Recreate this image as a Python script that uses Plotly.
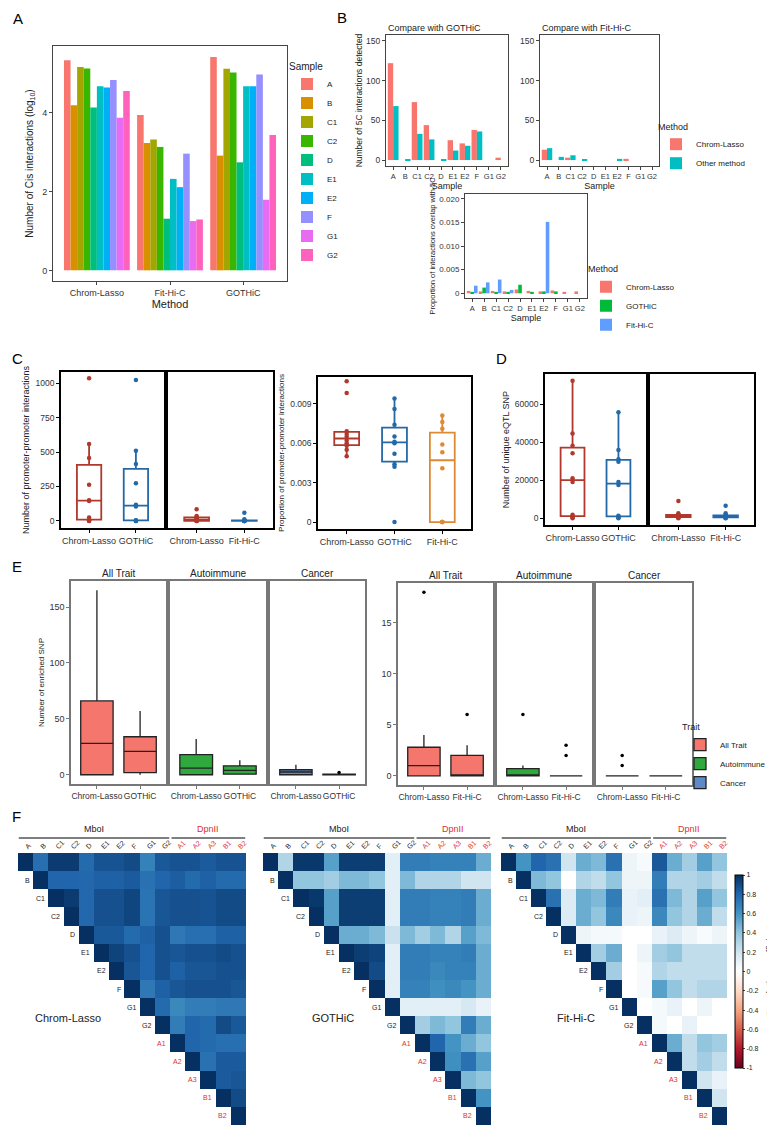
import numpy as np
import plotly.graph_objects as go

W, H = 775, 1125
FONT = "Liberation Sans, Arial, Helvetica, sans-serif"

# ------------------------------------------------------------------ data
# Panel A
methods = ["Chrom-Lasso", "Fit-Hi-C", "GOTHiC"]
samples = ["A", "B", "C1", "C2", "D", "E1", "E2", "F", "G1", "G2"]
sample_colors = ["#F8766D", "#D89000", "#A3A500", "#39B600", "#00BF7D",
                 "#00BFC4", "#00B0F6", "#9590FF", "#E76BF3", "#FF62BC"]
cis_chromlasso = [5.33, 4.19, 5.16, 5.12, 4.13, 4.67, 4.64, 4.83, 3.87, 4.55]
cis_fithic = [3.94, 3.23, 3.32, 3.13, 1.31, 2.32, 2.11, 2.96, 1.25, 1.29]
cis_gothic = [5.41, 2.91, 5.11, 5.02, 2.74, 4.67, 4.67, 4.97, 1.79, 3.43]

# Panel B
fivec_gothic_chromlasso = [122, 0, 73, 44, 0, 25, 21, 38, 0, 3]
fivec_gothic_other = [68, 1, 33, 26, 1, 12, 18, 36, 0, 0]
fivec_fithic_chromlasso = [13, 0, 3, 0, 0, 0, 0, 1.5, 0, 0]
fivec_fithic_other = [15, 4, 6, 1, 0, 0, 1.5, 0, 0, 0]
overlap_methods = ["Chrom-Lasso", "GOTHiC", "Fit-Hi-C"]
overlap_colors = ["#F8766D", "#00BA38", "#619CFF"]
overlap_chromlasso = [0.0005, 0.0004, 0.0005, 0.0004, 0.0008, 0.0005, 0.0004, 0.0006, 0.0003, 0.0004]
overlap_gothic = [0.0003, 0.0012, 0.0003, 0.0003, 0.0018, 0.0003, 0.0004, 0.0004, 0.0, 0.0]
overlap_fithic = [0.0016, 0.0023, 0.0029, 0.0007, 0.0, 0.0, 0.0151, 0.0, 0.0, 0.0]

# Panel C
pp_gothic_chromlasso = [1036, 558, 456, 262, 150, 145, 24, 5, 2, 0]
pp_gothic_gothic = [1024, 510, 413, 274, 117, 105, 5, 3, 0, 0]
pp_fithic_chromlasso = [85, 36, 28, 20, 12, 5, 2, 1, 0, 0]
pp_fithic_fithic = [60, 12, 5, 3, 2, 1, 0, 0, 0, 0]
ppprop_chromlasso = [0.0107, 0.0098, 0.0069, 0.0067, 0.0065, 0.0062, 0.0060, 0.0058, 0.0055, 0.0050]
ppprop_gothic = [0.0094, 0.0086, 0.0074, 0.0065, 0.0061, 0.0060, 0.0052, 0.0044, 0.0042, 0.0]
ppprop_fithic = [0.0081, 0.0076, 0.0071, 0.0059, 0.0053, 0.0041, 0.0, 0.0, 0.0, 0.0]

# Panel D
eqtl_gothic_chromlasso = [72400, 44700, 38200, 34200, 21000, 19000, 1750, 900, 500, 0]
eqtl_gothic_gothic = [55800, 36000, 31000, 29800, 19000, 17500, 1200, 900, 300, 0]
eqtl_fithic_chromlasso = [9100, 2600, 1800, 1500, 1200, 1000, 800, 500, 200, 0]
eqtl_fithic_fithic = [6500, 2600, 1500, 1200, 1000, 900, 700, 400, 100, 0]

# Panel E (box statistics per trait: [Chrom-Lasso, other])
traits = ["All Trait", "Autoimmune", "Cancer"]
trait_colors = ["#F4766D", "#2FA93E", "#5F8AC8"]
snpG_low = [[0, 0], [0, 0], [0, 0]]
snpG_q1 = [[0, 2], [0, 0.5], [0, 0]]
snpG_med = [[28, 21], [6, 4], [2.5, 0]]
snpG_q3 = [[66, 34], [18, 8], [4.5, 0.6]]
snpG_high = [[165, 57], [32, 13], [9, 1.2]]
snpG_out = [[[], []], [[], []], [[], [2]]]
snpF_low = [[0, 0], [0, 0], [0, 0]]
snpF_q1 = [[0, 0], [0, 0], [0, 0]]
snpF_med = [[1, 0], [0, 0], [0, 0]]
snpF_q3 = [[2.8, 2], [0.7, 0], [0, 0]]
snpF_high = [[4, 3], [1, 0], [0, 0]]
snpF_out = [[[18], [6]], [[6], [2, 3]], [[1, 2], []]]

# Panel F (upper triangles of correlation matrices, row by row)
corr_labels = ["A", "B", "C1", "C2", "D", "E1", "E2", "F", "G1", "G2", "A1", "A2", "A3", "B1", "B2"]
corr_chromlasso = [
    [0.76, 0.96, 0.96, 0.78, 0.87, 0.87, 0.9, 0.68, 0.85, 0.87, 0.87, 0.84, 0.87, 0.87],
    [0.8, 0.8, 0.79, 0.82, 0.82, 0.84, 0.75, 0.8, 0.83, 0.78, 0.82, 0.78, 0.78],
    [0.96, 0.79, 0.88, 0.88, 0.92, 0.74, 0.86, 0.88, 0.88, 0.87, 0.9, 0.9],
    [0.79, 0.88, 0.88, 0.92, 0.74, 0.86, 0.88, 0.88, 0.87, 0.9, 0.9],
    [0.85, 0.85, 0.78, 0.82, 0.88, 0.72, 0.76, 0.76, 0.82, 0.82],
    [0.93, 0.88, 0.8, 0.88, 0.86, 0.88, 0.88, 0.9, 0.88],
    [0.86, 0.8, 0.88, 0.82, 0.86, 0.86, 0.88, 0.88],
    [0.72, 0.82, 0.86, 0.88, 0.88, 0.88, 0.86],
    [0.78, 0.65, 0.7, 0.7, 0.72, 0.72],
    [0.7, 0.8, 0.78, 0.9, 0.85],
    [0.8, 0.78, 0.76, 0.76],
    [0.75, 0.84, 0.84],
    [0.84, 0.86],
    [0.9],
]
corr_gothic = [
    [0.3, 0.97, 0.97, 0.55, 0.95, 0.95, 0.95, 0.12, 0.7, 0.7, 0.68, 0.68, 0.68, 0.5],
    [0.4, 0.4, 0.35, 0.45, 0.45, 0.4, 0.12, 0.45, 0.3, 0.3, 0.3, 0.2, 0.2],
    [0.97, 0.55, 0.95, 0.95, 0.95, 0.12, 0.7, 0.7, 0.68, 0.68, 0.7, 0.5],
    [0.55, 0.95, 0.95, 0.95, 0.12, 0.7, 0.7, 0.68, 0.68, 0.7, 0.5],
    [0.5, 0.5, 0.45, 0.22, 0.45, 0.35, 0.45, 0.3, 0.55, 0.45],
    [0.95, 0.93, 0.12, 0.7, 0.7, 0.68, 0.68, 0.7, 0.5],
    [0.9, 0.12, 0.7, 0.7, 0.65, 0.68, 0.68, 0.5],
    [0.12, 0.68, 0.68, 0.62, 0.65, 0.6, 0.5],
    [0.12, 0.12, 0.12, 0.12, 0.18, 0.1],
    [0.35, 0.45, 0.4, 0.7, 0.5],
    [0.8, 0.6, 0.5, 0.4],
    [0.62, 0.75, 0.55],
    [0.45, 0.4],
    [0.6],
]
corr_fithic = [
    [0.6, 0.8, 0.75, 0.2, 0.5, 0.45, 0.75, 0.08, 0.04, 0.85, 0.5, 0.35, 0.55, 0.4],
    [0.45, 0.4, 0.0, 0.3, 0.25, 0.4, 0.08, 0.08, 0.7, 0.3, 0.3, 0.35, 0.25],
    [0.75, 0.15, 0.5, 0.45, 0.7, 0.1, 0.12, 0.75, 0.45, 0.3, 0.55, 0.4],
    [0.15, 0.5, 0.4, 0.65, 0.1, 0.08, 0.65, 0.4, 0.3, 0.5, 0.25],
    [0.08, 0.05, 0.05, 0.0, 0.0, 0.1, 0.15, 0.08, 0.03, 0.08],
    [0.35, 0.5, 0.0, 0.08, 0.35, 0.4, 0.25, 0.25, 0.25],
    [0.35, 0.0, 0.04, 0.3, 0.25, 0.25, 0.25, 0.25],
    [0.0, 0.04, 0.55, 0.4, 0.25, 0.3, 0.3],
    [0.0, 0.05, 0.1, 0.0, 0.08, 0.0],
    [0.05, 0.0, 0.1, 0.0, 0.0],
    [0.5, 0.25, 0.4, 0.35],
    [0.25, 0.35, 0.25],
    [0.2, 0.1],
    [0.2],
]

# ------------------------------------------------------------------ helpers
layout = {}
traces = []
annotations = []
shapes = []
counter = [0]


def new_axes(xpx, ypx, xstyle, ystyle):
    counter[0] += 1
    n = counter[0]
    s = "" if n == 1 else str(n)
    layout["xaxis" + s] = dict(domain=[xpx[0] / W, xpx[1] / W], anchor="y" + s,
                               automargin=False, **xstyle)
    layout["yaxis" + s] = dict(domain=[1 - ypx[1] / H, 1 - ypx[0] / H], anchor="x" + s,
                               automargin=False, **ystyle)
    return "x" + s, "y" + s


def frame(color, width, size=9, ticklabels=True):
    return dict(showline=True, mirror=True, linecolor=color, linewidth=width,
                showgrid=False, zeroline=False, ticks="outside" if ticklabels else "",
                ticklen=3, tickwidth=1, tickcolor=color,
                tickfont=dict(size=size, color="#333", family=FONT),
                showticklabels=ticklabels)


def text(x, y, s, size=10, color="#222", xanchor="center", yanchor="middle", angle=0):
    annotations.append(dict(x=x / W, y=1 - y / H, xref="paper", yref="paper", text=s,
                            showarrow=False, xanchor=xanchor, yanchor=yanchor, textangle=angle,
                            borderpad=0, font=dict(size=size, color=color, family=FONT)))


def box_stats(vals):
    v = np.asarray(vals, dtype=float)
    q1, med, q3 = np.percentile(v, [25, 50, 75])
    iqr = q3 - q1
    lo = v[v >= q1 - 1.5 * iqr].min()
    hi = v[v <= q3 + 1.5 * iqr].max()
    return q1, med, q3, lo, hi


# ------------------------------------------------------------------ panel A
xa, ya = new_axes((45, 279), (38, 273),
                  dict(frame("#444", 1, 9), type="category", range=[-0.6, 2.6], tickangle=0,
                       title=dict(text="Method", font=dict(size=11), standoff=3)),
                  dict(frame("#444", 1, 9), range=[-0.27, 5.69], tickvals=[0, 2, 4],
                       title=dict(text="Number of Cis interactions (log<sub>10</sub>)",
                                  font=dict(size=10), standoff=6)))
for k, smp in enumerate(samples):
    traces.append(go.Bar(x=methods, y=[cis_chromlasso[k], cis_fithic[k], cis_gothic[k]],
                         name=smp, marker=dict(color=sample_colors[k], line=dict(width=0)),
                         xaxis=xa, yaxis=ya, legend="legend", hoverinfo="skip"))
text(10, 11, "A", size=15, color="black")

# ------------------------------------------------------------------ panel B
ystyle_b = dict(frame("#444", 1, 8.5), range=[-7.5, 157.5], tickvals=[0, 50, 100, 150])
xsmp = dict(frame("#444", 1, 7.5), type="category", range=[-0.6, 9.6], tickangle=0,
            title=dict(text="Sample", font=dict(size=9), standoff=1))
xb1, yb1 = new_axes((378, 500), (27, 158), xsmp,
                    dict(ystyle_b, title=dict(text="Number of 5C interactions detected",
                                              font=dict(size=8.5), standoff=2)))
xb2, yb2 = new_axes((532, 651), (27, 158), xsmp, ystyle_b)
for (xx, yy, cl, ot, show) in [(xb1, yb1, fivec_gothic_chromlasso, fivec_gothic_other, True),
                                (xb2, yb2, fivec_fithic_chromlasso, fivec_fithic_other, False)]:
    traces.append(go.Bar(x=samples, y=cl, name="Chrom-Lasso", marker=dict(color="#F8766D", line=dict(width=0)),
                         xaxis=xx, yaxis=yy, legend="legend2", showlegend=show, hoverinfo="skip"))
    traces.append(go.Bar(x=samples, y=ot, name="Other method", marker=dict(color="#00BFC4", line=dict(width=0)),
                         xaxis=xx, yaxis=yy, legend="legend2", showlegend=show, hoverinfo="skip"))
text(379, 20, "Compare with GOTHiC", size=9, xanchor="left")
text(533, 20, "Compare with Fit-Hi-C", size=9, xanchor="left")
text(334, 10, "B", size=15, color="black")

xb3, yb3 = new_axes((457, 579), (186, 290), xsmp,
                    dict(frame("#444", 1, 8), range=[-0.001, 0.021],
                         tickvals=[0, 0.005, 0.010, 0.015, 0.020],
                         ticktext=["0", "0.005", "0.010", "0.015", "0.020"],
                         title=dict(text="Proportion of interactions overlap with 5C",
                                    font=dict(size=7.5), standoff=2)))
for m, col, vals in zip(overlap_methods, overlap_colors,
                        [overlap_chromlasso, overlap_gothic, overlap_fithic]):
    traces.append(go.Bar(x=samples, y=vals, name=m, marker=dict(color=col, line=dict(width=0)),
                         xaxis=xb3, yaxis=yb3, legend="legend3", hoverinfo="skip"))

# ------------------------------------------------------------------ panels C and D
BOXCOL = ["#B0382C", "#2369A8", "#DD8A35"]


def add_boxes(xx, yy, cats, datas):
    for i, (c, vals) in enumerate(zip(cats, datas)):
        q1, med, q3, lo, hi = box_stats(vals)
        traces.append(go.Box(x=[c], q1=[q1], median=[med], q3=[q3], lowerfence=[lo], upperfence=[hi],
                             width=0.52, whiskerwidth=0, boxpoints=False,
                             line=dict(color=BOXCOL[i], width=1.8), fillcolor="white",
                             xaxis=xx, yaxis=yy, showlegend=False, hoverinfo="skip"))
        traces.append(go.Scatter(x=[c] * len(vals), y=vals, mode="markers",
                                 marker=dict(color=BOXCOL[i], size=4.5),
                                 xaxis=xx, yaxis=yy, showlegend=False, hoverinfo="skip"))


xcat = dict(frame("black", 1.6, 9), type="category", tickangle=0)
yc = dict(frame("black", 1.6, 8.5), range=[-51.5, 1081.5], tickvals=[0, 250, 500, 750, 1000])
xc1, yc1 = new_axes((53, 156), (364, 520), dict(xcat, range=[-0.6, 1.6]),
                    dict(yc, title=dict(text="Number of promoter-promoter interactions",
                                        font=dict(size=9), standoff=4)))
add_boxes(xc1, yc1, ["Chrom-Lasso", "GOTHiC"], [pp_gothic_chromlasso, pp_gothic_gothic])
xc2, yc2 = new_axes((160, 265), (364, 520), dict(xcat, range=[-0.6, 1.6]),
                    dict(frame("black", 1.6, 8.5, ticklabels=False), range=[-51.5, 1081.5]))
add_boxes(xc2, yc2, ["Chrom-Lasso", "Fit-Hi-C"], [pp_fithic_chromlasso, pp_fithic_fithic])
xc3, yc3 = new_axes((310, 463), (369, 521), dict(xcat, range=[-0.6, 2.6]),
                    dict(frame("black", 1.6, 8.5), range=[-0.000525, 0.011025],
                         tickvals=[0, 0.003, 0.006, 0.009], ticktext=["0", "0.003", "0.006", "0.009"],
                         title=dict(text="Proportion of promoter-promoter interactions",
                                    font=dict(size=8), standoff=4)))
add_boxes(xc3, yc3, ["Chrom-Lasso", "GOTHiC", "Fit-Hi-C"], [ppprop_chromlasso, ppprop_gothic, ppprop_fithic])
text(9, 350, "C", size=15, color="black")

yd = dict(frame("black", 1.6, 8.5), range=[-3620, 76020], tickvals=[0, 20000, 40000, 60000],
          ticktext=["0", "20000", "40000", "60000"])
xd1, yd1 = new_axes((537, 638), (366, 517), dict(xcat, range=[-0.6, 1.6]),
                    dict(yd, title=dict(text="Number of unique eQTL SNP", font=dict(size=9), standoff=4)))
add_boxes(xd1, yd1, ["Chrom-Lasso", "GOTHiC"], [eqtl_gothic_chromlasso, eqtl_gothic_gothic])
xd2, yd2 = new_axes((642, 746), (366, 517), dict(xcat, range=[-0.6, 1.6]),
                    dict(frame("black", 1.6, 8.5, ticklabels=False), range=[-3620, 76020]))
add_boxes(xd2, yd2, ["Chrom-Lasso", "Fit-Hi-C"], [eqtl_fithic_chromlasso, eqtl_fithic_fithic])
text(493, 350, "D", size=15, color="black")

# ------------------------------------------------------------------ panel E
text(9, 558, "E", size=15, color="black")


def add_e(xpxs, ypx, yrange, ytick, other, low, q1, med, q3, high, out, legend_on, ytitle=None):
    for t, (xpx, trait) in enumerate(zip(xpxs, traits)):
        ys = dict(frame("#777", 1.5, 9, ticklabels=(t == 0)), range=yrange, tickvals=ytick)
        if t == 0 and ytitle:
            ys["title"] = dict(text=ytitle, font=dict(size=8), standoff=4)
        xx, yy = new_axes(xpx, ypx, dict(frame("#777", 1.5, 8.5), type="category", tickangle=0,
                                         range=[-0.6, 1.6]), ys)
        cats = ["Chrom-Lasso", other]
        for i, c in enumerate(cats):
            traces.append(go.Box(x=[c], q1=[q1[t][i]], median=[med[t][i]], q3=[q3[t][i]],
                                 lowerfence=[low[t][i]], upperfence=[high[t][i]],
                                 width=0.75, whiskerwidth=0, boxpoints=False, name=trait,
                                 line=dict(color="#222", width=1.3), fillcolor=trait_colors[t],
                                 legendgroup=trait, legend="legend4",
                                 showlegend=(legend_on and i == 0),
                                 xaxis=xx, yaxis=yy, hoverinfo="skip"))
            if out[t][i]:
                traces.append(go.Scatter(x=[c] * len(out[t][i]), y=out[t][i], mode="markers",
                                         marker=dict(color="black", size=3.5),
                                         xaxis=xx, yaxis=yy, showlegend=False, hoverinfo="skip"))
        text((xpx[0] + xpx[1]) / 2, ypx[0] - 8, trait, size=10)


add_e([(63, 158), (162, 258), (262, 357)], (573, 776), [-8.25, 173.25], [0, 50, 100, 150], "GOTHiC",
      snpG_low, snpG_q1, snpG_med, snpG_q3, snpG_high, snpG_out, False, "Number of enriched SNP")
add_e([(390, 485), (489, 584), (588, 684)], (575, 777), [-0.9, 18.9], [0, 5, 10, 15], "Fit-Hi-C",
      snpF_low, snpF_q1, snpF_med, snpF_q3, snpF_high, snpF_out, True)

# ------------------------------------------------------------------ panel F
text(8, 808, "F", size=15, color="black")
RED = "#E0302F"
colorscale = [[0.0, "#67001F"], [0.1, "#B2182B"], [0.2, "#D6604D"], [0.3, "#F4A582"],
              [0.4, "#FDDBC7"], [0.5, "#FFFFFF"], [0.6, "#D1E5F0"], [0.7, "#92C5DE"],
              [0.8, "#4393C3"], [0.9, "#2166AC"], [1.0, "#053061"]]
n_lab = len(corr_labels)
ticktext = [(f'<span style="color:{RED}">{l}</span>' if i >= 10 else l) for i, l in enumerate(corr_labels)]


def full_matrix(upper):
    z = [[None] * n_lab for _ in range(n_lab)]
    for i in range(n_lab):
        z[i][i] = 1.0
        for j, v in enumerate(upper[i] if i < len(upper) else []):
            z[i][i + 1 + j] = v
    return z


heat_specs = [((10, 238), corr_chromlasso, "Chrom-Lasso", (60, 1010)),
              ((255, 483), corr_gothic, "GOTHiC", (325, 1010)),
              ((493, 719), corr_fithic, "Fit-Hi-C", (568, 1010))]
for h, (xpx, upper, title, tpos) in enumerate(heat_specs):
    xx, yy = new_axes(xpx, (845, 1117),
                      dict(type="category", side="top", tickangle=-45, showgrid=False, zeroline=False,
                           showline=False, ticks="", tickfont=dict(size=7, color="#222"),
                           tickvals=corr_labels, ticktext=ticktext, range=[-0.5, n_lab - 0.5]),
                      dict(type="category", showgrid=False, zeroline=False, showline=False,
                           showticklabels=False, ticks="", range=[n_lab - 0.5, -0.5]))
    last = (h == len(heat_specs) - 1)
    traces.append(go.Heatmap(
        x=corr_labels, y=corr_labels, z=full_matrix(upper), zmin=-1, zmax=1,
        colorscale=colorscale, showscale=last, xaxis=xx, yaxis=yy, hoverinfo="skip",
        colorbar=dict(x=727 / W, xanchor="left", y=1 - 963.5 / H, yanchor="middle",
                      len=193 / H, lenmode="fraction", thickness=8, outlinewidth=1,
                      outlinecolor="black", ticks="outside", ticklen=2, xpad=0, ypad=0,
                      tickvals=[-1, -0.8, -0.6, -0.4, -0.2, 0, 0.2, 0.4, 0.6, 0.8, 1],
                      ticktext=["-1", "-0.8", "-0.6", "-0.4", "-0.2", "0", "0.2", "0.4", "0.6", "0.8", "1"],
                      tickfont=dict(size=7, color="#222"))
        if last else None))
    for i, lab in enumerate(corr_labels):
        annotations.append(dict(x=i - 0.6, y=i, xref=xx, yref=yy, text=lab, showarrow=False,
                                xanchor="right", yanchor="middle",
                                font=dict(size=7, color=RED if i >= 10 else "#222")))
    ybr = 1 - 830 / H
    shapes.append(dict(type="line", xref=xx, yref="paper", x0=-0.45, x1=9.45, y0=ybr, y1=ybr,
                       line=dict(color="black", width=1)))
    shapes.append(dict(type="line", xref=xx, yref="paper", x0=9.6, x1=14.45, y0=ybr, y1=ybr,
                       line=dict(color="black", width=1)))
    annotations.append(dict(x=4.5, y=1 - 821 / H, xref=xx, yref="paper", text="MboI", showarrow=False,
                            xanchor="center", yanchor="middle", font=dict(size=9, color="#222")))
    annotations.append(dict(x=12, y=1 - 821 / H, xref=xx, yref="paper", text="DpnII", showarrow=False,
                            xanchor="center", yanchor="middle", font=dict(size=9, color=RED)))
    text(tpos[0], tpos[1], title, size=11)

# colour-bar title
text(761, 963, "Correlation coefficient", size=9.5, angle=-90)

# ------------------------------------------------------------------ layout
leg_common = dict(bgcolor="rgba(0,0,0,0)", itemwidth=30, tracegroupgap=0, xanchor="left",
                  yanchor="middle", font=dict(size=8, family=FONT, color="#222"))
layout.update(
    width=W, height=H, margin=dict(l=0, r=0, t=0, b=0),
    paper_bgcolor="white", plot_bgcolor="white",
    font=dict(family=FONT, size=9, color="#222"),
    barmode="group", bargap=0.1, bargroupgap=0, boxmode="overlay",
    showlegend=True,
    legend=dict(leg_common, x=279 / W, y=1 - 155 / H, title=dict(text="Sample", font=dict(size=10))),
    legend2=dict(leg_common, x=648 / W, y=1 - 140 / H, title=dict(text="Method", font=dict(size=9))),
    legend3=dict(leg_common, x=578 / W, y=1 - 292 / H, title=dict(text="Method", font=dict(size=9))),
    legend4=dict(leg_common, x=672 / W, y=1 - 750 / H, title=dict(text="Trait", font=dict(size=9))),
    annotations=annotations, shapes=shapes,
)

fig = go.Figure(data=traces, layout=layout)
fig.write_html("out.html")
